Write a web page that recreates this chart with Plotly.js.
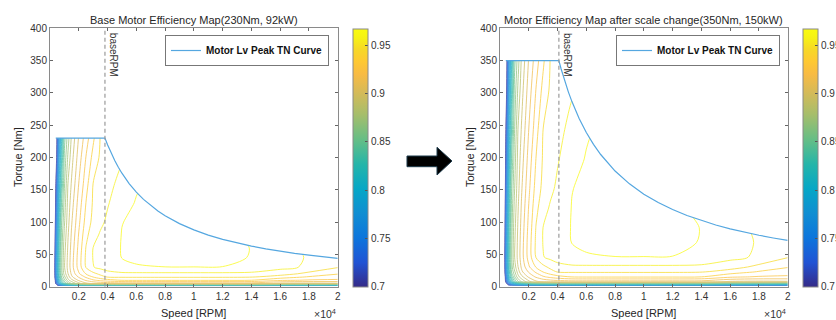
<!DOCTYPE html>
<html><head><meta charset="utf-8">
<script src="https://cdn.plot.ly/plotly-3.0.1.min.js"></script>
<style>html,body{margin:0;padding:0;background:#fff;}#chart{width:836px;height:320px;}</style>
</head><body><div id="chart"></div>
<script>
// ---- data ----
const speedGrid = [0, 200, 400, 600, 800, 1000, 1250, 1500, 2000, 2500, 3000, 3500, 4000, 5000, 6000, 8000, 10000, 12000, 14000, 16000, 18000, 20000];
const torqueGridBase = [0, 2, 5, 10, 15, 20, 30, 45, 60, 80, 100, 130, 160, 200, 230];
const torqueGridScaled = [0, 3.04, 7.61, 15.22, 22.83, 30.43, 45.65, 68.48, 91.30, 121.74, 152.17, 197.83, 243.48, 304.35, 350];
// efficiency rows (one per torque value), columns follow speedGrid
const efficiency = [
 [0,0,0,0,0,0,0,0,0,0,0,0,0,0,0,0,0,0,0,0,0,0],
 [0.10,0.40,0.64,0.72,0.75,0.765,0.775,0.782,0.79,0.795,0.798,0.80,0.80,0.80,0.80,0.80,0.80,0.80,0.80,0.79,0.785,0.78],
 [0.15,0.50,0.708,0.775,0.8125,0.8375,0.8575,0.87,0.8867,0.8978,0.901,0.903,0.904,0.905,0.905,0.905,0.905,0.905,0.905,0.898,0.897,0.898],
 [0.20,0.58,0.724,0.80,0.8357,0.8571,0.8764,0.8867,0.902,0.9114,0.9186,0.9229,0.9264,0.9305,0.931,0.931,0.931,0.931,0.930,0.922,0.919,0.918],
 [0.20,0.60,0.7389,0.8083,0.8501,0.8671,0.8844,0.8978,0.9111,0.9217,0.9302,0.9363,0.9405,0.941,0.941,0.941,0.941,0.941,0.9405,0.935,0.929,0.926],
 [0.20,0.60,0.7438,0.8143,0.8548,0.8742,0.8897,0.9019,0.9185,0.9306,0.9373,0.9423,0.946,0.948,0.948,0.948,0.948,0.948,0.948,0.9445,0.937,0.9305],
 [0.20,0.60,0.7467,0.8192,0.8579,0.879,0.8933,0.9054,0.9243,0.9404,0.9495,0.9525,0.955,0.958,0.9595,0.9598,0.9598,0.9598,0.9565,0.9525,0.9485,0.9405],
 [0.20,0.59,0.7433,0.8167,0.8572,0.8779,0.8928,0.905,0.9246,0.9417,0.9505,0.953,0.9555,0.9602,0.961,0.964,0.9645,0.9625,0.9595,0.9545,0.949,0.947],
 [0.20,0.58,0.7385,0.8138,0.8556,0.8759,0.8914,0.9036,0.9231,0.9404,0.9502,0.9526,0.9553,0.9605,0.9615,0.9665,0.966,0.9625,0.9598,0.953,0.9485,0.946],
 [0.20,0.57,0.731,0.8085,0.853,0.8726,0.8891,0.9015,0.9207,0.9373,0.946,0.9513,0.9543,0.9603,0.962,0.967,0.9665,0.962,0.958,0.953,0.948,0.945],
 [0.20,0.56,0.722,0.8023,0.8488,0.8686,0.8865,0.899,0.9178,0.9338,0.9429,0.9476,0.952,0.9598,0.9615,0.9665,0.966,0.962,0.957,0.952,0.947,0.944],
 [0.20,0.55,0.7088,0.7933,0.8401,0.8639,0.8833,0.8952,0.9141,0.9301,0.9413,0.9452,0.949,0.957,0.9605,0.965,0.964,0.961,0.958,0.953,0.948,0.945],
 [0.20,0.54,0.697,0.7828,0.8296,0.8586,0.8801,0.8911,0.9101,0.9257,0.9401,0.9434,0.947,0.953,0.959,0.963,0.962,0.959,0.956,0.952,0.947,0.944],
 [0.20,0.52,0.67,0.7676,0.8173,0.8523,0.8718,0.886,0.9048,0.9203,0.9332,0.9417,0.945,0.949,0.952,0.958,0.958,0.956,0.953,0.95,0.946,0.943],
 [0.20,0.50,0.66,0.757,0.807,0.846,0.8654,0.8819,0.9009,0.9153,0.9281,0.9405,0.944,0.946,0.95,0.955,0.955,0.954,0.951,0.948,0.945,0.942]
];
// peak torque-speed curves
const tnSpeedBase = [400, 3820, 4000, 4250, 4500, 4750, 5000, 5500, 6000, 6500, 7000, 7500, 8000, 9000, 10000, 11000, 12000, 13000, 14000, 15000, 16000, 17000, 18000, 19000, 20000];
const tnTorqueBase = [230, 230, 219.6, 206.7, 195.2, 184.9, 175.7, 159.7, 146.4, 135.2, 125.5, 117.1, 109.8, 97.6, 87.9, 79.9, 73.2, 67.6, 62.8, 58.6, 54.9, 51.7, 48.8, 46.2, 43.9];
const tnSpeedScaled = [400, 4093, 4250, 4500, 4750, 5000, 5500, 6000, 6500, 7000, 7500, 8000, 9000, 10000, 11000, 12000, 13000, 14000, 15000, 16000, 17000, 18000, 19000, 20000];
const tnTorqueScaled = [350, 350, 337.0, 318.3, 301.6, 286.5, 260.4, 238.7, 220.4, 204.6, 191.0, 179.0, 159.2, 143.2, 130.2, 119.4, 110.2, 102.3, 95.5, 89.5, 84.3, 79.6, 75.4, 71.6];
const baseRpmBase = 3820;
const baseRpmScaled = 4093;
const xTickVals = [2000, 4000, 6000, 8000, 10000, 12000, 14000, 16000, 18000, 20000];
const xTickText = ['0.2', '0.4', '0.6', '0.8', '1', '1.2', '1.4', '1.6', '1.8', '2'];
const yTickVals = [0, 50, 100, 150, 200, 250, 300, 350, 400];
const cbTickVals = [0.7, 0.75, 0.8, 0.85, 0.9, 0.95];
const cbTickText = ['0.7', '0.75', '0.8', '0.85', '0.9', '0.95'];
const effMin = 0.7, effMax = 0.967;
const titles = ['Base Motor Efficiency Map(230Nm, 92kW)', 'Motor Efficiency Map after scale change(350Nm, 150kW)'];
const legendName = 'Motor Lv Peak TN Curve';

// ---- style ----
const FONT = 'Liberation Sans, Arial, Helvetica, sans-serif';
const parula = [
 [0.000, 'rgb(53,42,135)'], [0.095, 'rgb(32,83,212)'], [0.190, 'rgb(13,117,220)'],
 [0.286, 'rgb(16,142,210)'], [0.381, 'rgb(6,167,198)'], [0.476, 'rgb(37,181,169)'],
 [0.571, 'rgb(101,190,134)'], [0.667, 'rgb(165,190,107)'], [0.762, 'rgb(217,186,86)'],
 [0.825, 'rgb(248,187,68)'], [0.873, 'rgb(254,200,50)'], [0.921, 'rgb(247,216,38)'],
 [0.968, 'rgb(246,243,19)'], [1.000, 'rgb(249,251,14)']
];

function panel(torqueGrid, tnS, tnT, xName, yName, cbx, leg) {
  const contour = {
    type: 'contour', x: speedGrid, y: torqueGrid, z: efficiency,
    xaxis: xName, yaxis: yName, showscale: false, showlegend: false,
    colorscale: parula, zmin: effMin, zmax: effMax, zauto: false,
    autocontour: false, opacity: 0.8,
    contours: {coloring: 'lines', start: 0.70, end: 0.96, size: 0.01, showlabels: false},
    line: {width: 0.9, smoothing: 0.8}, hoverinfo: 'skip'
  };
  const maskX = [0].concat(tnS, [20000, 0]);
  const maskY = [tnT[0]].concat(tnT, [400, 400]);
  const mask = {
    type: 'scatter', mode: 'lines', x: maskX, y: maskY, fill: 'toself',
    fillcolor: '#ffffff', line: {width: 0, color: 'rgba(0,0,0,0)'},
    xaxis: xName, yaxis: yName, showlegend: false, hoverinfo: 'skip'
  };
  const tn = {
    type: 'scatter', mode: 'lines', x: tnS, y: tnT, name: legendName,
    line: {color: '#55a7e0', width: 1.2}, xaxis: xName, yaxis: yName,
    legend: leg, showlegend: true
  };
  const cb = {
    type: 'scatter', mode: 'markers', x: [1000, 1000], y: [-100, -100],
    xaxis: xName, yaxis: yName, showlegend: false, hoverinfo: 'skip',
    marker: {size: 1, opacity: 0, color: [effMin, effMax], cmin: effMin, cmax: effMax,
      colorscale: parula, showscale: true,
      colorbar: {x: cbx, xanchor: 'left', xpad: 0, ypad: 0, y: 0.1041, yanchor: 'bottom',
        len: 0.8075, lenmode: 'fraction', thickness: 15, thicknessmode: 'pixels',
        outlinewidth: 1, outlinecolor: '#8a8a8a', ticks: 'inside', ticklen: 3, tickcolor: '#555',
        tickvals: cbTickVals, ticktext: cbTickText,
        tickfont: {family: FONT, size: 10, color: '#333'}}}
  };
  return [contour, mask, tn, cb];
}

const data = [].concat(
  panel(torqueGridBase, tnSpeedBase, tnTorqueBase, 'x', 'y', 0.4222, 'legend'),
  panel(torqueGridScaled, tnSpeedScaled, tnTorqueScaled, 'x2', 'y2', 0.9609, 'legend2')
);

function xAxis(dom, anchor) {
  return {domain: dom, anchor: anchor, range: [0, 20000], tickvals: xTickVals, ticktext: xTickText,
    ticks: 'inside', ticklen: 3, tickcolor: '#666', showline: true, linecolor: '#8a8a8a', linewidth: 1,
    mirror: 'ticks', showgrid: false, zeroline: false, tickfont: {family: FONT, size: 10, color: '#333'}, fixedrange: true};
}
function yAxis(anchor) {
  return {domain: [0.1041, 0.9116], anchor: anchor, range: [0, 400], tickvals: yTickVals,
    ticks: 'inside', ticklen: 3, tickcolor: '#666', showline: true, linecolor: '#8a8a8a', linewidth: 1,
    mirror: 'ticks', showgrid: false, zeroline: false, tickfont: {family: FONT, size: 10, color: '#333'}, fixedrange: true};
}
function legendBox(xr) {
  return {x: xr, xanchor: 'right', y: 0.8906, yanchor: 'top', bgcolor: '#fff', bordercolor: '#777', borderwidth: 1,
    font: {family: FONT, size: 10, color: '#111', weight: 'bold'}, itemwidth: 30, tracegroupgap: 0};
}
const txt = (o) => Object.assign({showarrow: false, font: {family: FONT, size: 11, color: '#262626'}}, o);

const annotations = [
  txt({text: titles[0], xref: 'paper', yref: 'paper', x: 0.2319, y: 0.9375, xanchor: 'center', yanchor: 'middle'}),
  txt({text: titles[1], xref: 'paper', yref: 'paper', x: 0.7703, y: 0.9375, xanchor: 'center', yanchor: 'middle'}),
  txt({text: 'Speed [RPM]', xref: 'paper', yref: 'paper', x: 0.2319, y: 0.0219, xanchor: 'center', yanchor: 'middle'}),
  txt({text: 'Speed [RPM]', xref: 'paper', yref: 'paper', x: 0.7703, y: 0.0219, xanchor: 'center', yanchor: 'middle'}),
  txt({text: 'Torque [Nm]', xref: 'paper', yref: 'paper', x: 0.0215, y: 0.509, xanchor: 'center', yanchor: 'middle', textangle: -90}),
  txt({text: 'Torque [Nm]', xref: 'paper', yref: 'paper', x: 0.5622, y: 0.509, xanchor: 'center', yanchor: 'middle', textangle: -90}),
  txt({text: '×10<sup>4</sup>', xref: 'paper', yref: 'paper', x: 0.4045, y: 0.0188, xanchor: 'right', yanchor: 'middle', font: {family: FONT, size: 10.5, color: '#333'}}),
  txt({text: '×10<sup>4</sup>', xref: 'paper', yref: 'paper', x: 0.9424, y: 0.0188, xanchor: 'right', yanchor: 'middle', font: {family: FONT, size: 10.5, color: '#333'}}),
  txt({text: 'baseRPM', xref: 'x', yref: 'y', x: baseRpmBase, y: 400, xanchor: 'left', yanchor: 'top', textangle: 90, xshift: 1, yshift: -3, font: {family: FONT, size: 10, color: '#333'}}),
  txt({text: 'baseRPM', xref: 'x2', yref: 'y2', x: baseRpmScaled, y: 400, xanchor: 'left', yanchor: 'top', textangle: 90, xshift: 1, yshift: -3, font: {family: FONT, size: 10, color: '#333'}})
];

const shapes = [
  {type: 'line', xref: 'x', yref: 'y', x0: baseRpmBase, x1: baseRpmBase, y0: 0, y1: 400, layer: 'above', line: {color: '#9a9a9a', width: 1.2, dash: '4px,3px'}},
  {type: 'line', xref: 'x2', yref: 'y2', x0: baseRpmScaled, x1: baseRpmScaled, y0: 0, y1: 400, layer: 'above', line: {color: '#9a9a9a', width: 1.2, dash: '4px,3px'}},
  {type: 'path', xref: 'paper', yref: 'paper', layer: 'above',
   path: 'M0.48684,0.5125 L0.52273,0.5125 L0.52273,0.5397 L0.54067,0.49688 L0.52273,0.45313 L0.52273,0.47906 L0.48684,0.47906 Z',
   fillcolor: '#000', line: {color: '#1d3a4a', width: 1}}
];

const layout = {
  width: 836, height: 320, margin: {l: 0, r: 0, t: 0, b: 0, autoexpand: false},
  paper_bgcolor: '#fff', plot_bgcolor: '#fff', font: {family: FONT, size: 10, color: '#333'},
  xaxis: xAxis([0.0598, 0.4040], 'y'), yaxis: yAxis('x'),
  xaxis2: xAxis([0.5981, 0.9422], 'y2'), yaxis2: yAxis('x2'),
  legend: legendBox(0.3935), legend2: legendBox(0.9330),
  annotations: annotations, shapes: shapes, showlegend: true, hovermode: false
};

Plotly.newPlot('chart', data, layout, {staticPlot: true, displayModeBar: false});
</script></body></html>
